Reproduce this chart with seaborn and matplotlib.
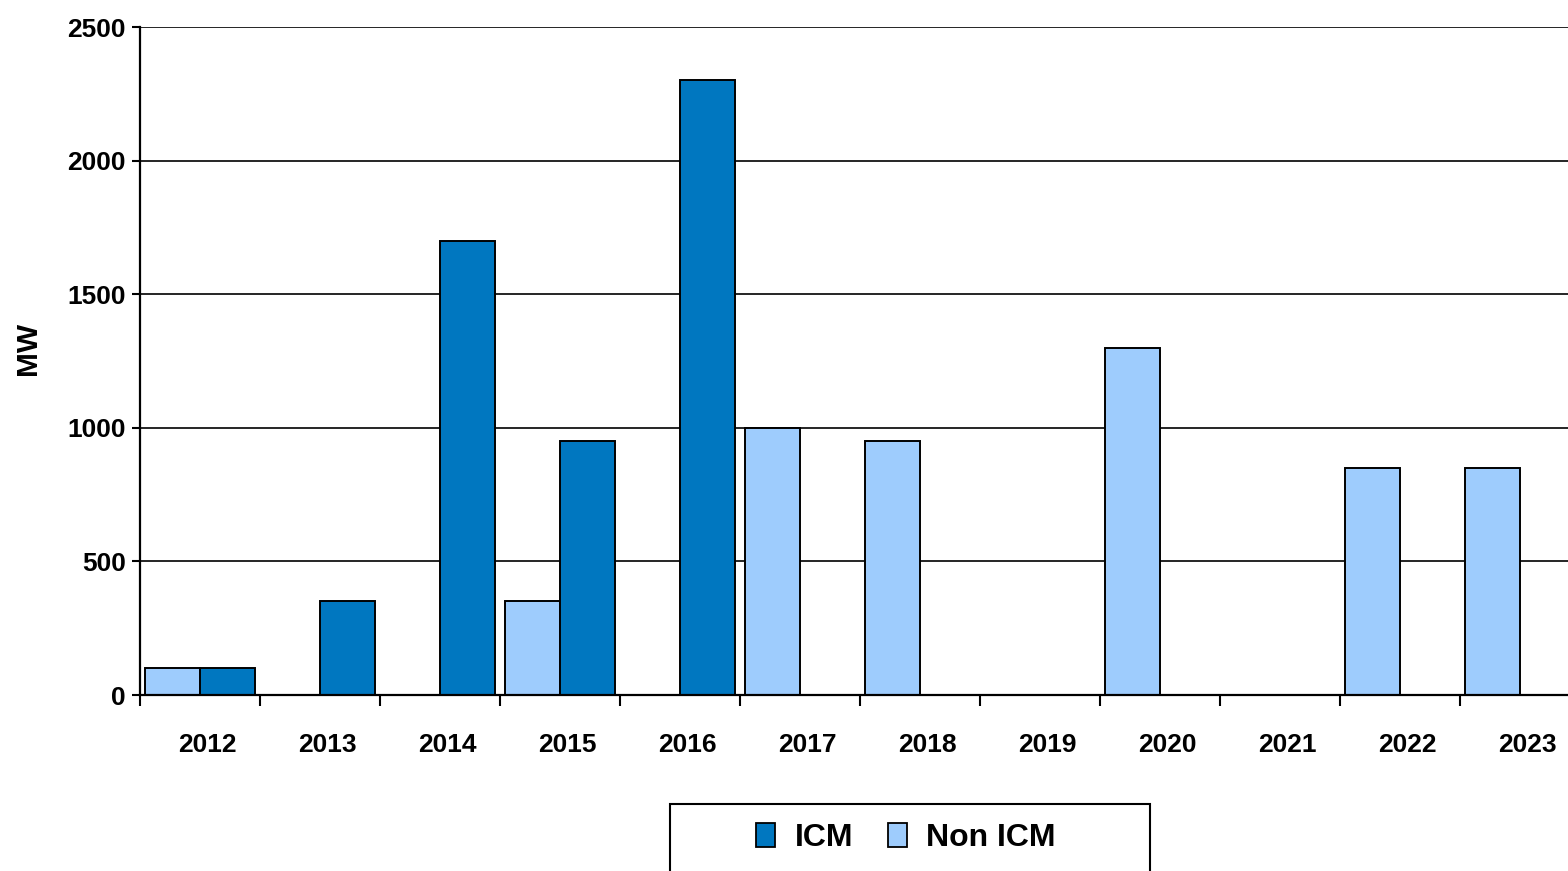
import matplotlib
matplotlib.use("Agg")
import matplotlib.pyplot as plt
from matplotlib.patches import Rectangle, Patch
import seaborn as sns
import pandas as pd
import numpy as np

years = ["2012", "2013", "2014", "2015", "2016", "2017", "2018", "2019", "2020", "2021", "2022", "2023"]
icm_years = ["2012", "2013", "2014", "2015", "2016"]
icm_values = [100, 350, 1700, 950, 2300]
non_icm_years = ["2012", "2015", "2017", "2018", "2020", "2022", "2023"]
non_icm_values = [100, 350, 1000, 950, 1300, 850, 850]
y_ticks = [0, 500, 1000, 1500, 2000, 2500]

ICM_COLOR = "#0077C0"
NON_COLOR = "#9ECCFD"

df = pd.concat([
    pd.DataFrame({"year": icm_years, "MW": icm_values, "type": "ICM"}),
    pd.DataFrame({"year": non_icm_years, "MW": non_icm_values, "type": "Non ICM"}),
], ignore_index=True)

sns.set_theme(style="white")
plt.rcParams["font.family"] = ["Liberation Sans", "DejaVu Sans"]
plt.rcParams["font.weight"] = "bold"
plt.rcParams["text.color"] = "black"
plt.rcParams["axes.labelcolor"] = "black"
plt.rcParams["xtick.color"] = "black"
plt.rcParams["ytick.color"] = "black"

W, H = 1568, 871
fig = plt.figure(figsize=(W / 100, H / 100), dpi=100)
ax = fig.add_axes([140 / W, 176 / H, 1440 / W, 668 / H])

for y in y_ticks[1:]:
    ax.axhline(y, color="black", lw=1.2, zorder=0.5)

sns.barplot(data=df, x="year", y="MW", hue="type", order=years,
            hue_order=["Non ICM", "ICM"],
            palette={"ICM": ICM_COLOR, "Non ICM": NON_COLOR},
            width=0.917, gap=0, saturation=1, edgecolor="black", linewidth=1.4,
            legend=False, ax=ax, zorder=2)

ax.set_xlim(-0.5, len(years) - 0.5)
ax.set_ylim(0, 2500)
ax.set_yticks(y_ticks)
ax.set_yticklabels([str(v) for v in y_ticks], fontsize=19, fontweight="bold", color="black")
# labels sit slightly right of category centres in the reference
ax.set_xticks(np.arange(len(years)) + 0.06)
ax.set_xticklabels(years, fontsize=19, fontweight="bold", color="black")
ax.set_xticks(np.arange(-0.5, len(years)), minor=True)
ax.tick_params(axis="x", which="major", length=0, pad=27)
ax.tick_params(axis="x", which="minor", length=8, width=1.5, direction="out", color="black", bottom=True)
ax.tick_params(axis="y", which="major", length=6, width=1.5, direction="out", pad=4, color="black", left=True)
ax.set_xlabel("")
ax.set_ylabel("")
for s in ["top", "right"]:
    ax.spines[s].set_visible(False)
for s in ["left", "bottom"]:
    ax.spines[s].set_color("black")
    ax.spines[s].set_linewidth(1.6)
    ax.spines[s].set_zorder(3)

fig.text(28 / W, 1 - 348 / H, "MW", rotation=90, ha="center", va="center",
         fontsize=21.5, fontweight="bold", color="black")

# legend frame
fig.patches.append(Rectangle((670 / W, -0.05), 480 / W, (871 - 804) / H + 0.05,
                             transform=fig.transFigure, fill=False,
                             edgecolor="black", lw=1.5))
handles = [Patch(facecolor=ICM_COLOR, edgecolor="black", lw=1.3, label="ICM"),
           Patch(facecolor=NON_COLOR, edgecolor="black", lw=1.3, label="Non ICM")]
leg = fig.legend(handles=handles, loc="center", bbox_to_anchor=(906 / W, 1 - 838 / H),
                 ncol=2, frameon=False, prop={"size": 23, "weight": "bold"},
                 handlelength=0.6, handleheight=0.8, handletextpad=0.6, columnspacing=1.1)
for t in leg.get_texts():
    t.set_color("black")

fig.savefig("out.png", dpi=100)
